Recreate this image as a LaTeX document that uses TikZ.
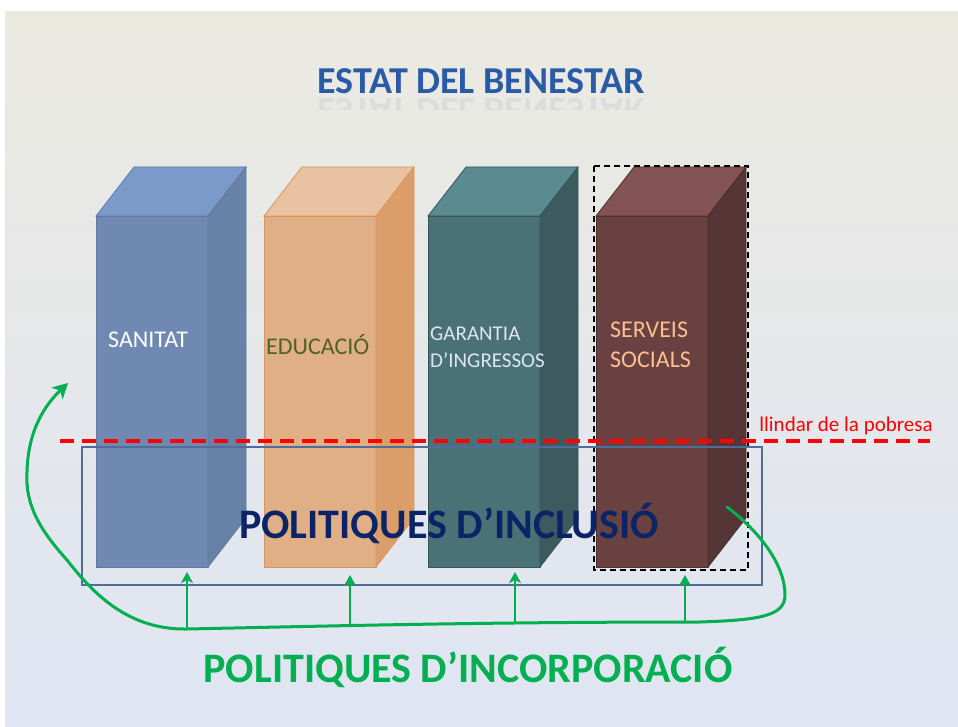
\documentclass[tikz,border=0pt]{standalone}
\usepackage{fontspec}
\setmainfont{Carlito}
\usetikzlibrary{arrows.meta}

\definecolor{fonsA}{HTML}{EBEAE1}
\definecolor{fonsB}{HTML}{C6D4EC}
\definecolor{fonsC}{HTML}{DFE5F3}
\definecolor{blauF}{HTML}{7089B3}
\definecolor{blauC}{HTML}{6781A7}
\definecolor{blauT}{HTML}{7B9ACA}
\definecolor{blauV}{HTML}{5F7BA5}
\definecolor{tarF}{HTML}{E1AF86}
\definecolor{tarC}{HTML}{DA9E6B}
\definecolor{tarT}{HTML}{E8C2A1}
\definecolor{tarV}{HTML}{D9955E}
\definecolor{verdF}{HTML}{4A7276}
\definecolor{verdC}{HTML}{3D5B5F}
\definecolor{verdT}{HTML}{5A8B91}
\definecolor{verdV}{HTML}{36555A}
\definecolor{granF}{HTML}{6A4141}
\definecolor{granC}{HTML}{553535}
\definecolor{granT}{HTML}{845353}
\definecolor{granV}{HTML}{4A2D2D}
\definecolor{titol}{HTML}{2A5BA5}
\definecolor{marina}{HTML}{0A2466}
\definecolor{incorp}{HTML}{00B050}
\definecolor{marc}{HTML}{4F6C9A}
\definecolor{oliva}{HTML}{4F6228}
\definecolor{gelat}{HTML}{DCE6F2}
\definecolor{pressec}{HTML}{FAC090}

\begin{document}
\begin{tikzpicture}[x=1pt,y=-1pt,
    etiqueta/.style={anchor=west,inner sep=0pt,align=left},
    gran/.style={inner sep=0pt,font=\fontsize{42}{46}\selectfont\bfseries},
    fletxa/.style={incorp,line width=2.8pt,-{Stealth[length=11pt,width=12pt,inset=3pt]}},
    corba/.style={incorp,line width=3pt,line cap=round,-{Stealth[length=15pt,width=16pt,inset=4pt]}}]
    \useasboundingbox (0,0) rectangle (958,727);
    \fill[white] (0,0) rectangle (958,727);
    \shade[top color=fonsA,middle color=fonsB,bottom color=fonsC] (5,12) rectangle (958,727);

    % titol i reflex
    \node[inner sep=0pt,text=titol,font=\fontsize{38}{42}\selectfont\bfseries] (titol) at (481,81) {ESTAT DEL BENESTAR};
    \begin{scope}
        \clip (300,96) rectangle (660,110);
        \node[inner sep=0pt,text=titol,opacity=0.08,yscale=-1,font=\fontsize{38}{42}\selectfont\bfseries] (reflex) at (481,111) {ESTAT DEL BENESTAR};
    \end{scope}

    % pilars
    \foreach \x/\cf/\cc/\ct/\cv in {96/blauF/blauC/blauT/blauV, 264/tarF/tarC/tarT/tarV,
        428/verdF/verdC/verdT/verdV, 596/granF/granC/granT/granV} {
        \filldraw[fill=\cf,draw=\cv,line width=0.8pt] (\x,216) rectangle ++(112,351);
        \filldraw[fill=\ct,draw=\cv,line width=0.8pt] (\x,216) -- ++(38,-49) -- ++(112,0) -- ++(-38,49) -- cycle;
        \filldraw[fill=\cc,draw=\cv,line width=0.8pt] ({\x+112},216) -- ++(38,-49) -- ++(0,351) -- ++(-38,49) -- cycle;
    }
    \draw[black,line width=1.5pt,dash pattern=on 6pt off 4pt] (594,166) rectangle (748,570);

    \node[etiqueta,text=white,font=\fontsize{24}{28}\selectfont] (sanitat) at (108,340) {SANITAT};
    \node[etiqueta,text=oliva,font=\fontsize{24}{28}\selectfont] (educacio) at (266,345) {EDUCACIÓ};
    \node[etiqueta,text=gelat,font=\fontsize{21}{27}\selectfont] (garantia) at (430,347) {GARANTIA\\D’INGRESSOS};
    \node[etiqueta,text=pressec,font=\fontsize{24}{30}\selectfont] (serveis) at (610,345) {SERVEIS\\SOCIALS};

    % llindar
    \draw[red,line width=3.5pt,dash pattern=on 14pt off 8pt] (60,441) -- (930,441);
    \node[inner sep=0pt,text=red,font=\fontsize{21}{24}\selectfont] (llindar) at (846,426) {llindar de la pobresa};

    % inclusio
    \draw[marc,line width=1.5pt] (82,447) rectangle (762,585);
    \node[gran,text=marina] (inclusio) at (449,523) {POLITIQUES D’INCLUSIÓ};

    % incorporacio
    \coordinate (cua) at (727,507);
    \coordinate (gir) at (785,595);
    \coordinate (dreta) at (700,622);
    \coordinate (b1) at (187,629);
    \coordinate (esq) at (67,560);
    \coordinate (lat) at (27,472);
    \coordinate (punta) at (68,383);
    \draw[corba] (cua) .. controls (760,532) and (785,565) .. (gir)
        .. controls (785,616) and (760,620) .. (dreta)
        .. controls (480,622) and (330,626) .. (b1)
        .. controls (130,630) and (95,596) .. (esq)
        .. controls (40,530) and (25,505) .. (lat)
        .. controls (28,430) and (45,405) .. (punta);
    \coordinate (b2) at (350,626);
    \coordinate (b3) at (515,623);
    \coordinate (b4) at (685,622);
    \coordinate (a1) at (187,572);
    \coordinate (a2) at (350,575);
    \coordinate (a3) at (515,572);
    \coordinate (a4) at (685,575);
    \draw[fletxa] (b1) -- (a1);
    \draw[fletxa] (b2) -- (a2);
    \draw[fletxa] (b3) -- (a3);
    \draw[fletxa] (b4) -- (a4);
    \node[gran,text=incorp] (incorporacio) at (468,667) {POLITIQUES D’INCORPORACIÓ};
\end{tikzpicture}
\end{document}
